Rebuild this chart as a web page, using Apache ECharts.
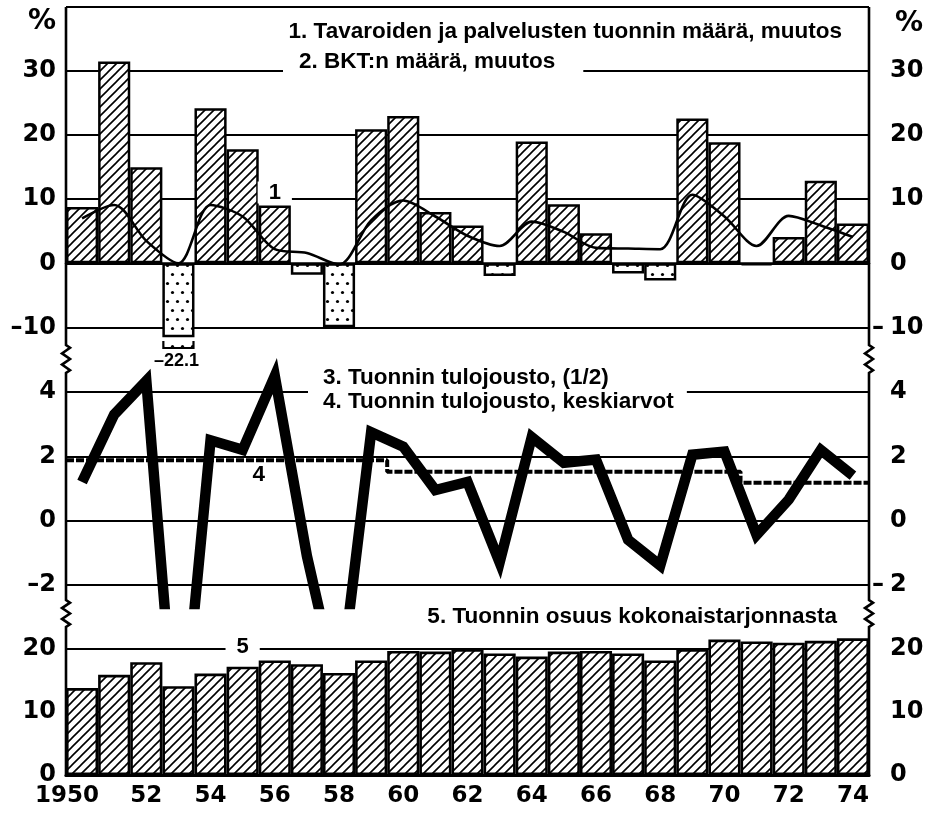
<!DOCTYPE html>
<html><head><meta charset="utf-8">
<script src="https://cdn.jsdelivr.net/npm/echarts@6/dist/echarts.min.js"></script>
<style>html,body{margin:0;padding:0;background:#fff}#c{width:931px;height:813px}</style>
</head><body><div id="c"></div>
<script>
// ---------------- DATA ----------------
const years = ['1950','1951','1952','1953','1954','1955','1956','1957','1958','1959','1960','1961','1962','1963','1964','1965','1966','1967','1968','1969','1970','1971','1972','1973','1974'];
// 1. import volume change, %
const importChange = [8.8, 31.5, 15.0, -22.1, 24.2, 17.8, 9.0, -1.8, -10.0, 20.9, 23.0, 8.0, 5.9, -2.0, 19.0, 9.2, 4.7, -1.6, -2.7, 22.6, 18.9, -0.3, 4.1, 12.9, 6.2];
// 2. GDP volume change, %
const gdpChange = [7.0, 9.1, 3.5, 0.0, 9.1, 7.3, 2.2, 1.6, -0.2, 6.7, 9.8, 7.3, 4.3, 2.7, 6.5, 4.9, 2.4, 2.3, 2.2, 10.7, 7.3, 2.7, 7.4, 5.9, 4.1];
// 3. import income elasticity (1/2)
const elasticity = [1.2, 3.3, 4.35, -8.0, 2.5, 2.2, 4.5, -1.1, -5.5, 2.75, 2.3, 0.95, 1.2, -1.3, 2.6, 1.8, 1.9, -0.6, -1.4, 2.05, 2.15, -0.45, 0.65, 2.2, 1.4];
// 4. elasticity period averages
const avgPeriods = [[1950, 1959], [1960, 1970], [1971, 1974]];
const avgValues = [1.88, 1.52, 1.18];
// 5. import share of total supply, %
const importShare = [13.8, 15.9, 17.9, 14.1, 16.1, 17.2, 18.2, 17.6, 16.2, 18.2, 19.7, 19.6, 20.0, 19.3, 18.8, 19.6, 19.7, 19.3, 18.2, 20.0, 21.5, 21.2, 21.0, 21.3, 21.7];
// texts
const legend1 = '1. Tavaroiden ja palvelusten tuonnin määrä, muutos';
const legend2 = '2. BKT:n määrä, muutos';
const legend3 = '3. Tuonnin tulojousto, (1/2)';
const legend4 = '4. Tuonnin tulojousto, keskiarvot';
const legend5 = '5. Tuonnin osuus kokonaistarjonnasta';
const offScaleLabel = '–22.1';

// ---------------- LAYOUT / STYLE ----------------
const GL = 66, GR = 62, CW = 931;
const XR = CW - GR;
const G1 = {top: 7, bottom: 336, min: -11.35, max: 40, step: 10};
const G2 = {top: 360, bottom: 604, min: -2.6, max: 5.0, step: 2};
const G3 = {top: 627, bottom: 775, min: 0, max: 23.5, step: 10};
const TICKFONT = {fontFamily: 'DejaVu Sans', fontWeight: 'bold', fontSize: 24, color: '#000'};
const LEGFONT = 'bold 22.5px "Liberation Sans"';

function hatchCanvas() {
  const c = document.createElement('canvas'); c.width = 9; c.height = 9;
  const g = c.getContext('2d');
  g.fillStyle = '#fff'; g.fillRect(0, 0, 9, 9);
  g.strokeStyle = '#000'; g.lineWidth = 1.6;
  g.beginPath();
  g.moveTo(-1, 10); g.lineTo(10, -1);
  g.moveTo(-1, 1); g.lineTo(1, -1);
  g.moveTo(8, 10); g.lineTo(10, 8);
  g.stroke();
  return c;
}
function dotCanvas() {
  const c = document.createElement('canvas'); c.width = 10; c.height = 18;
  const g = c.getContext('2d');
  g.fillStyle = '#fff'; g.fillRect(0, 0, 10, 18);
  g.fillStyle = '#000';
  [[2.5, 4.5], [7.5, 13.5]].forEach(p => { g.beginPath(); g.arc(p[0], p[1], 1.6, 0, Math.PI * 2); g.fill(); });
  return c;
}
const HATCH = {image: hatchCanvas(), repeat: 'repeat'};
const DOTS = {image: dotCanvas(), repeat: 'repeat'};

function yAxes(gi, G, minLabel, maxLine) {
  const common = {type: 'value', gridIndex: gi, min: G.min, max: G.max, minInterval: G.step, maxInterval: G.step,
    axisLine: {show: false}, axisTick: {show: false}};
  const left = Object.assign({}, common, {position: 'left',
    axisLabel: Object.assign({}, TICKFONT, {margin: 10, align: 'right', showMinLabel: minLabel, showMaxLabel: false,
      formatter: v => v < 0 ? '–' + Math.abs(v) : String(v)}),
    splitLine: {show: true, showMinLine: false, showMaxLine: maxLine, lineStyle: {color: '#000', width: 2}}});
  const right = Object.assign({}, common, {position: 'right',
    axisLabel: Object.assign({}, TICKFONT, {margin: 3, align: 'left', showMinLabel: minLabel, showMaxLabel: false,
      formatter: v => '{m|' + (v < 0 ? '–' : '') + '}{d|' + Math.abs(v) + '}',
      rich: {m: Object.assign({}, TICKFONT, {width: 18}), d: Object.assign({}, TICKFONT)}}),
    splitLine: {show: false}});
  return [left, right];
}

const labelFont = {fontFamily: 'Liberation Sans', fontWeight: 'bold', fontSize: 22, color: '#000'};

const barData1 = importChange.map((v, i) => {
  const item = {value: v, itemStyle: {color: v < 0 ? DOTS : HATCH}};
  if (years[i] === '1956') item.label = Object.assign({show: true, position: 'top', distance: 2, formatter: '1',
    backgroundColor: '#fff', padding: [0, 11, 0, 11]}, labelFont);
  return item;
});
const gdpData = gdpChange.map((v, i) => years[i] === '1957'
  ? {value: v, label: Object.assign({show: true, position: 'top', distance: 3, formatter: '2'}, labelFont)} : v);
const elastData = elasticity.map((v, i) => years[i] === '1956'
  ? {value: v, label: Object.assign({show: true, position: 'left', distance: 6, formatter: '3'}, labelFont)} : v);
const avgData = [];
avgPeriods.forEach((p, k) => { avgData.push([p[0] - 0.5, avgValues[k]]); avgData.push([p[1] + 0.5, avgValues[k]]); });
const shareData = importShare.map((v, i) => years[i] === '1955'
  ? {value: v, label: Object.assign({show: true, position: 'top', distance: 9, formatter: '5',
      backgroundColor: '#fff', padding: [0, 11, 0, 11]}, labelFont)} : v);

const option = {
  animation: false,
  backgroundColor: '#fff',
  grid: [
    {left: GL, right: GR, top: G1.top, height: G1.bottom - G1.top},
    {left: GL, right: GR, top: G2.top, height: G2.bottom - G2.top},
    {left: GL, right: GR, top: G3.top, height: G3.bottom - G3.top}
  ],
  xAxis: [
    {type: 'category', gridIndex: 0, data: years, boundaryGap: true,
      axisLine: {show: true, onZero: true, onZeroAxisIndex: 0, lineStyle: {color: '#000', width: 2.5}},
      axisTick: {show: false}, axisLabel: {show: false}, splitLine: {show: false}},
    {type: 'category', gridIndex: 1, data: years, boundaryGap: true, show: false},
    {type: 'category', gridIndex: 2, data: years, boundaryGap: true,
      axisLine: {show: true, lineStyle: {color: '#000', width: 3}}, axisTick: {show: false},
      axisLabel: Object.assign({}, TICKFONT, {fontSize: 23, margin: 10, interval: 1,
        formatter: (v, i) => i === 0 ? '{f|' + v + '}' : v.slice(2),
        rich: {f: Object.assign({}, TICKFONT, {fontSize: 23, padding: [0, 30, 0, 0]})}}),
      splitLine: {show: false}},
    {type: 'value', gridIndex: 1, min: 1949.5, max: 1974.5, show: false}
  ],
  yAxis: [].concat(yAxes(0, G1, false, true), yAxes(1, G2, false, false), yAxes(2, G3, true, false)),
  series: [
    {type: 'bar', xAxisIndex: 0, yAxisIndex: 0, data: barData1, barWidth: '100%', barCategoryGap: '0%', z: 2,
      itemStyle: {borderColor: '#000', borderWidth: 2.5}},
    {type: 'line', xAxisIndex: 0, yAxisIndex: 0, data: gdpData, smooth: 0.3, showSymbol: false, symbol: 'none', z: 4,
      lineStyle: {color: '#000', width: 2.6}},
    {type: 'line', xAxisIndex: 3, yAxisIndex: 2, data: avgData, showSymbol: false, symbol: 'none', z: 3,
      lineStyle: {color: '#000', width: 4, type: [8, 2], cap: 'butt'}},
    {type: 'line', xAxisIndex: 1, yAxisIndex: 2, data: elastData, showSymbol: false, symbol: 'none', z: 4,
      lineStyle: {color: '#000', width: 10.5, join: 'miter', miterLimit: 4, cap: 'butt'}},
    {type: 'bar', xAxisIndex: 2, yAxisIndex: 4, data: shareData, barWidth: '100%', barCategoryGap: '0%', z: 2,
      itemStyle: {color: HATCH, borderColor: '#000', borderWidth: 2.6}}
  ]
};

const chart = echarts.init(document.getElementById('c'), null, {renderer: 'canvas', width: 931, height: 813});
chart.setOption(option);

// ---- decorations derived from the axes ----
function squiggle(x, y0, y1) {
  const h = (y1 - y0) / 6;
  return [[x, y0], [x + 4, y0 + h * 0.6], [x - 4, y0 + h * 1.8], [x + 4, y0 + h * 3], [x - 4, y0 + h * 4.2], [x + 4, y0 + h * 5.4], [x, y1]];
}
function axisPath(x) {
  const b1 = [345, 373], b2 = [600, 627];
  return [[x, G1.top]].concat(squiggle(x, b1[0], b1[1]), squiggle(x, b2[0], b2[1]), [[x, G3.bottom + 1.5]]);
}
const bandW = (XR - GL) / years.length;
const p53 = chart.convertToPixel({xAxisIndex: 0, yAxisIndex: 0}, ['1953', G1.min]);
const p4 = chart.convertToPixel({xAxisIndex: 3, yAxisIndex: 2}, [1955.5, avgValues[0]]);

const graphics = [
  {type: 'polyline', shape: {points: axisPath(GL)}, style: {stroke: '#000', lineWidth: 2.6, fill: 'none'}, z: 50},
  {type: 'polyline', shape: {points: axisPath(XR)}, style: {stroke: '#000', lineWidth: 2.6, fill: 'none'}, z: 50},
  {type: 'text', x: 56, y: 22, style: {text: '%', font: 'bold 28px "DejaVu Sans"', fill: '#000', align: 'right', verticalAlign: 'middle'}, z: 50},
  {type: 'text', x: 895, y: 24, style: {text: '%', font: 'bold 28px "DejaVu Sans"', fill: '#000', align: 'left', verticalAlign: 'middle'}, z: 50},
  {type: 'text', x: 842, y: 32, style: {text: legend1, font: LEGFONT, fill: '#000', align: 'right', verticalAlign: 'middle'}, z: 50},
  {type: 'text', x: 283, y: 62, style: {text: legend2, font: LEGFONT, fill: '#000', align: 'left', verticalAlign: 'middle',
    backgroundColor: '#fff', padding: [2, 28, 5, 16]}, z: 50},
  {type: 'text', x: 308, y: 390, style: {text: legend3 + '\n' + legend4, font: LEGFONT, fill: '#000', lineHeight: 24,
    align: 'left', verticalAlign: 'middle', backgroundColor: '#fff', padding: [1, 13, 1, 15]}, z: 50},
  {type: 'text', x: 837, y: 617, style: {text: legend5, font: LEGFONT, fill: '#000', align: 'right', verticalAlign: 'middle'}, z: 50},
  // continuation stub of the off-scale 1953 bar
  {type: 'rect', shape: {x: p53[0] - bandW / 2 + 1, y: p53[1] + 5, width: bandW - 2, height: 7}, style: {fill: DOTS, stroke: null}, z: 40},
  {type: 'polyline', shape: {points: [[p53[0] - bandW / 2 + 1, p53[1] + 5], [p53[0] - bandW / 2 + 1, p53[1] + 12], [p53[0] + bandW / 2 - 1, p53[1] + 12], [p53[0] + bandW / 2 - 1, p53[1] + 5]]},
    style: {stroke: '#000', lineWidth: 2.2, fill: 'none'}, z: 41},
  {type: 'text', x: p53[0] - 2, y: p53[1] + 25, style: {text: offScaleLabel, font: 'bold 18px "Liberation Sans"', fill: '#000', align: 'center', verticalAlign: 'middle'}, z: 50},
  {type: 'text', x: p4[0], y: p4[1] + 15, style: {text: '4', font: LEGFONT, fill: '#000', align: 'center', verticalAlign: 'middle'}, z: 50}
];
chart.setOption({graphic: graphics});
</script>
</body></html>
